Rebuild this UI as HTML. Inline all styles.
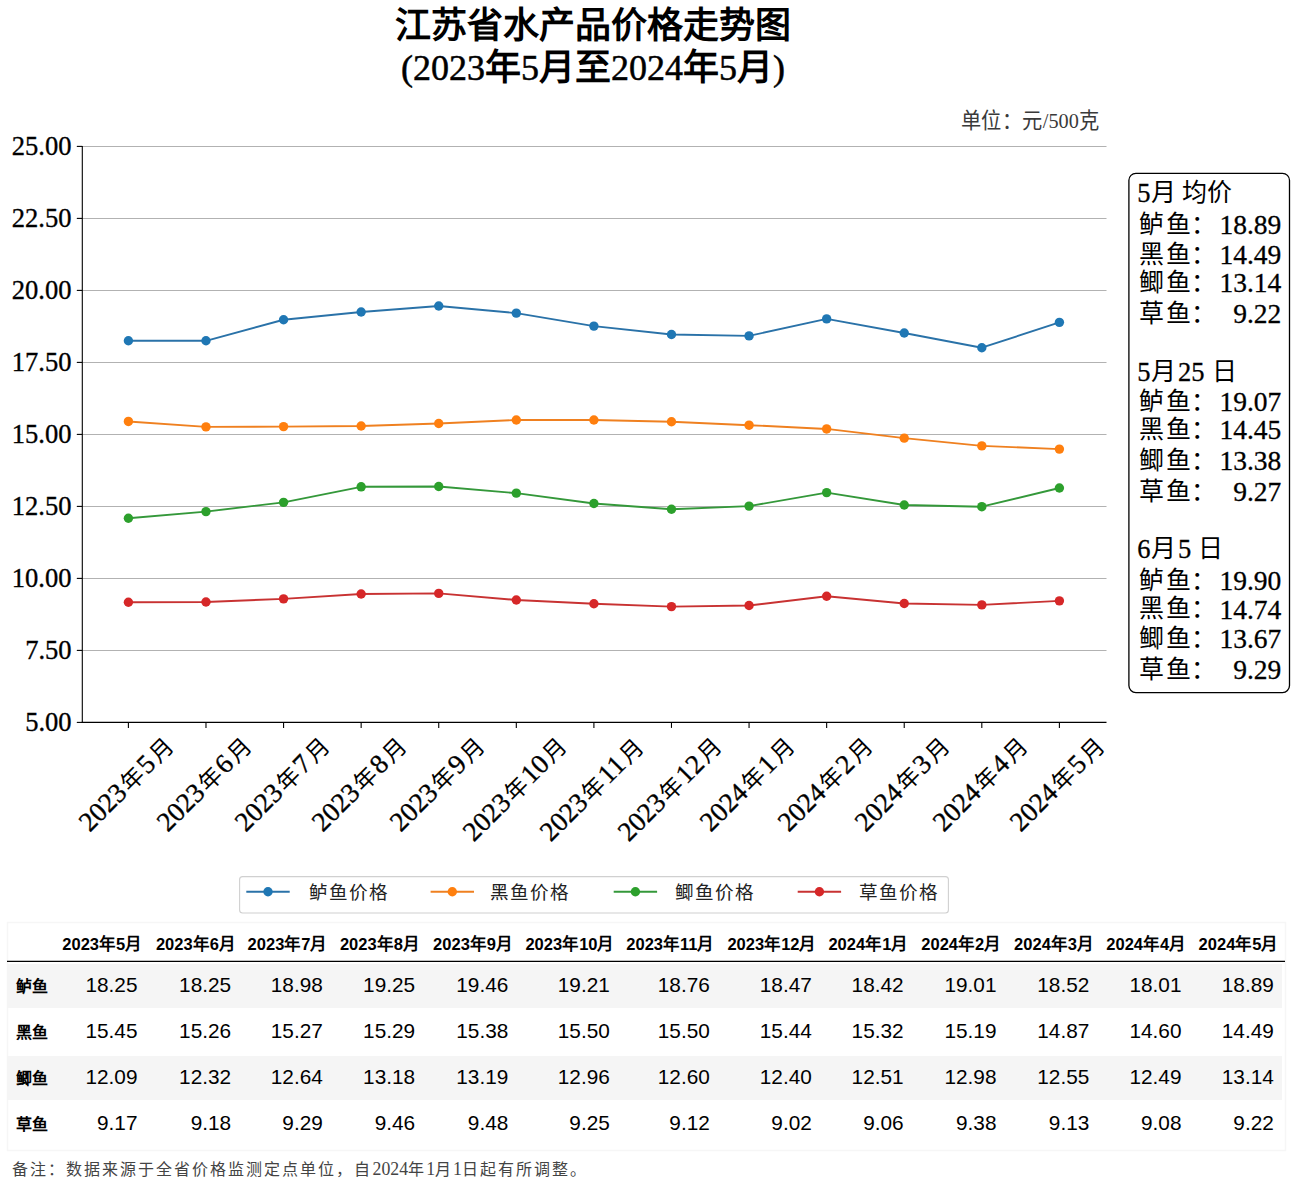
<!DOCTYPE html>
<html lang="zh-CN"><head><meta charset="utf-8"><style>
html,body{margin:0;padding:0;background:#fff;}
body{width:1291px;height:1198px;position:relative;overflow:hidden;}
svg{position:absolute;left:0;top:0;}
.t{position:absolute;white-space:nowrap;line-height:1;}
.title{font-family:"Liberation Serif",serif;font-size:36px;font-weight:bold;}
.title2{font-family:"Liberation Serif",serif;font-size:36px;-webkit-text-stroke:0.5px #000;}
.title2 b{-webkit-text-stroke:0;}
.unit{font-family:"Liberation Serif",serif;font-size:21.8px;color:#3a3a3a;transform:scaleX(0.93);transform-origin:0 0;}
.ytick{font-family:"Liberation Serif",serif;font-size:27.8px;color:#000;-webkit-text-stroke:0.35px #000;transform:scaleX(0.955);transform-origin:100% 0;}
.xt{position:absolute;white-space:nowrap;font-family:"Liberation Serif",serif;font-size:27.2px;line-height:1;transform-origin:50% 50%;transform:rotate(-45deg);}
.xt i{font-style:normal;-webkit-text-stroke:0.35px #000;}
.xt b{font-weight:normal;font-size:23px;margin:0 2.1px;}
.leg{font-family:"Liberation Serif",serif;font-size:18.6px;letter-spacing:1.0px;color:#222;}
.ann{font-family:"Liberation Serif",serif;font-size:25px;color:#000;}
.annd{font-size:26.5px;-webkit-text-stroke:0.3px #000;vertical-align:-1px;}
.annv{font-family:"Liberation Serif",serif;font-size:27.5px;color:#000;-webkit-text-stroke:0.3px #000;}
.rb{position:absolute;left:7px;width:1274.5px;height:44.5px;}
.th{font-family:"Liberation Sans",sans-serif;font-size:16.5px;font-weight:bold;color:#000;}
.rl{font-family:"Liberation Sans",sans-serif;font-size:16px;font-weight:bold;color:#000;}
.td{font-family:"Liberation Sans",sans-serif;font-size:20.8px;color:#000;}
.foot{font-family:"Liberation Serif",serif;font-size:16px;letter-spacing:2.05px;color:#444;}
.fd{font-size:17.8px;letter-spacing:0;}
</style></head><body>
<svg width="1291" height="1198" viewBox="0 0 1291 1198">
<line x1="82.3" y1="146.40" x2="1106.5" y2="146.40" stroke="#b2b2b2" stroke-width="1.05"/>
<line x1="76.8" y1="146.40" x2="82.3" y2="146.40" stroke="#000" stroke-width="1.1"/>
<line x1="82.3" y1="218.40" x2="1106.5" y2="218.40" stroke="#b2b2b2" stroke-width="1.05"/>
<line x1="76.8" y1="218.40" x2="82.3" y2="218.40" stroke="#000" stroke-width="1.1"/>
<line x1="82.3" y1="290.40" x2="1106.5" y2="290.40" stroke="#b2b2b2" stroke-width="1.05"/>
<line x1="76.8" y1="290.40" x2="82.3" y2="290.40" stroke="#000" stroke-width="1.1"/>
<line x1="82.3" y1="362.40" x2="1106.5" y2="362.40" stroke="#b2b2b2" stroke-width="1.05"/>
<line x1="76.8" y1="362.40" x2="82.3" y2="362.40" stroke="#000" stroke-width="1.1"/>
<line x1="82.3" y1="434.40" x2="1106.5" y2="434.40" stroke="#b2b2b2" stroke-width="1.05"/>
<line x1="76.8" y1="434.40" x2="82.3" y2="434.40" stroke="#000" stroke-width="1.1"/>
<line x1="82.3" y1="506.40" x2="1106.5" y2="506.40" stroke="#b2b2b2" stroke-width="1.05"/>
<line x1="76.8" y1="506.40" x2="82.3" y2="506.40" stroke="#000" stroke-width="1.1"/>
<line x1="82.3" y1="578.40" x2="1106.5" y2="578.40" stroke="#b2b2b2" stroke-width="1.05"/>
<line x1="76.8" y1="578.40" x2="82.3" y2="578.40" stroke="#000" stroke-width="1.1"/>
<line x1="82.3" y1="650.40" x2="1106.5" y2="650.40" stroke="#b2b2b2" stroke-width="1.05"/>
<line x1="76.8" y1="650.40" x2="82.3" y2="650.40" stroke="#000" stroke-width="1.1"/>
<line x1="76.8" y1="722.40" x2="82.3" y2="722.40" stroke="#000" stroke-width="1.1"/>
<line x1="82.3" y1="145.9" x2="82.3" y2="722.9499999999999" stroke="#000" stroke-width="1.1"/>
<line x1="81.75" y1="722.40" x2="1106.5" y2="722.40" stroke="#000" stroke-width="1.1"/>
<line x1="128.40" y1="722.40" x2="128.40" y2="727.90" stroke="#000" stroke-width="1.1"/>
<line x1="205.98" y1="722.40" x2="205.98" y2="727.90" stroke="#000" stroke-width="1.1"/>
<line x1="283.57" y1="722.40" x2="283.57" y2="727.90" stroke="#000" stroke-width="1.1"/>
<line x1="361.15" y1="722.40" x2="361.15" y2="727.90" stroke="#000" stroke-width="1.1"/>
<line x1="438.73" y1="722.40" x2="438.73" y2="727.90" stroke="#000" stroke-width="1.1"/>
<line x1="516.31" y1="722.40" x2="516.31" y2="727.90" stroke="#000" stroke-width="1.1"/>
<line x1="593.90" y1="722.40" x2="593.90" y2="727.90" stroke="#000" stroke-width="1.1"/>
<line x1="671.48" y1="722.40" x2="671.48" y2="727.90" stroke="#000" stroke-width="1.1"/>
<line x1="749.06" y1="722.40" x2="749.06" y2="727.90" stroke="#000" stroke-width="1.1"/>
<line x1="826.65" y1="722.40" x2="826.65" y2="727.90" stroke="#000" stroke-width="1.1"/>
<line x1="904.23" y1="722.40" x2="904.23" y2="727.90" stroke="#000" stroke-width="1.1"/>
<line x1="981.81" y1="722.40" x2="981.81" y2="727.90" stroke="#000" stroke-width="1.1"/>
<line x1="1059.40" y1="722.40" x2="1059.40" y2="727.90" stroke="#000" stroke-width="1.1"/>
<polyline points="128.40,340.80 205.98,340.80 283.57,319.78 361.15,312.00 438.73,305.95 516.31,313.15 593.90,326.11 671.48,334.46 749.06,335.90 826.65,318.91 904.23,333.02 981.81,347.71 1059.40,322.37" fill="none" stroke="#2a72a8" stroke-width="1.9" stroke-linejoin="round"/>
<circle cx="128.40" cy="340.80" r="4.7" fill="#1f77b4"/>
<circle cx="205.98" cy="340.80" r="4.7" fill="#1f77b4"/>
<circle cx="283.57" cy="319.78" r="4.7" fill="#1f77b4"/>
<circle cx="361.15" cy="312.00" r="4.7" fill="#1f77b4"/>
<circle cx="438.73" cy="305.95" r="4.7" fill="#1f77b4"/>
<circle cx="516.31" cy="313.15" r="4.7" fill="#1f77b4"/>
<circle cx="593.90" cy="326.11" r="4.7" fill="#1f77b4"/>
<circle cx="671.48" cy="334.46" r="4.7" fill="#1f77b4"/>
<circle cx="749.06" cy="335.90" r="4.7" fill="#1f77b4"/>
<circle cx="826.65" cy="318.91" r="4.7" fill="#1f77b4"/>
<circle cx="904.23" cy="333.02" r="4.7" fill="#1f77b4"/>
<circle cx="981.81" cy="347.71" r="4.7" fill="#1f77b4"/>
<circle cx="1059.40" cy="322.37" r="4.7" fill="#1f77b4"/>
<polyline points="128.40,421.44 205.98,426.91 283.57,426.62 361.15,426.05 438.73,423.46 516.31,420.00 593.90,420.00 671.48,421.73 749.06,425.18 826.65,428.93 904.23,438.14 981.81,445.92 1059.40,449.09" fill="none" stroke="#ef8020" stroke-width="1.9" stroke-linejoin="round"/>
<circle cx="128.40" cy="421.44" r="4.7" fill="#ff7f0e"/>
<circle cx="205.98" cy="426.91" r="4.7" fill="#ff7f0e"/>
<circle cx="283.57" cy="426.62" r="4.7" fill="#ff7f0e"/>
<circle cx="361.15" cy="426.05" r="4.7" fill="#ff7f0e"/>
<circle cx="438.73" cy="423.46" r="4.7" fill="#ff7f0e"/>
<circle cx="516.31" cy="420.00" r="4.7" fill="#ff7f0e"/>
<circle cx="593.90" cy="420.00" r="4.7" fill="#ff7f0e"/>
<circle cx="671.48" cy="421.73" r="4.7" fill="#ff7f0e"/>
<circle cx="749.06" cy="425.18" r="4.7" fill="#ff7f0e"/>
<circle cx="826.65" cy="428.93" r="4.7" fill="#ff7f0e"/>
<circle cx="904.23" cy="438.14" r="4.7" fill="#ff7f0e"/>
<circle cx="981.81" cy="445.92" r="4.7" fill="#ff7f0e"/>
<circle cx="1059.40" cy="449.09" r="4.7" fill="#ff7f0e"/>
<polyline points="128.40,518.21 205.98,511.58 283.57,502.37 361.15,486.82 438.73,486.53 516.31,493.15 593.90,503.52 671.48,509.28 749.06,506.11 826.65,492.58 904.23,504.96 981.81,506.69 1059.40,487.97" fill="none" stroke="#34983a" stroke-width="1.9" stroke-linejoin="round"/>
<circle cx="128.40" cy="518.21" r="4.7" fill="#2ca02c"/>
<circle cx="205.98" cy="511.58" r="4.7" fill="#2ca02c"/>
<circle cx="283.57" cy="502.37" r="4.7" fill="#2ca02c"/>
<circle cx="361.15" cy="486.82" r="4.7" fill="#2ca02c"/>
<circle cx="438.73" cy="486.53" r="4.7" fill="#2ca02c"/>
<circle cx="516.31" cy="493.15" r="4.7" fill="#2ca02c"/>
<circle cx="593.90" cy="503.52" r="4.7" fill="#2ca02c"/>
<circle cx="671.48" cy="509.28" r="4.7" fill="#2ca02c"/>
<circle cx="749.06" cy="506.11" r="4.7" fill="#2ca02c"/>
<circle cx="826.65" cy="492.58" r="4.7" fill="#2ca02c"/>
<circle cx="904.23" cy="504.96" r="4.7" fill="#2ca02c"/>
<circle cx="981.81" cy="506.69" r="4.7" fill="#2ca02c"/>
<circle cx="1059.40" cy="487.97" r="4.7" fill="#2ca02c"/>
<polyline points="128.40,602.30 205.98,602.02 283.57,598.85 361.15,593.95 438.73,593.38 516.31,600.00 593.90,603.74 671.48,606.62 749.06,605.47 826.65,596.26 904.23,603.46 981.81,604.90 1059.40,600.86" fill="none" stroke="#c83232" stroke-width="1.9" stroke-linejoin="round"/>
<circle cx="128.40" cy="602.30" r="4.7" fill="#d62728"/>
<circle cx="205.98" cy="602.02" r="4.7" fill="#d62728"/>
<circle cx="283.57" cy="598.85" r="4.7" fill="#d62728"/>
<circle cx="361.15" cy="593.95" r="4.7" fill="#d62728"/>
<circle cx="438.73" cy="593.38" r="4.7" fill="#d62728"/>
<circle cx="516.31" cy="600.00" r="4.7" fill="#d62728"/>
<circle cx="593.90" cy="603.74" r="4.7" fill="#d62728"/>
<circle cx="671.48" cy="606.62" r="4.7" fill="#d62728"/>
<circle cx="749.06" cy="605.47" r="4.7" fill="#d62728"/>
<circle cx="826.65" cy="596.26" r="4.7" fill="#d62728"/>
<circle cx="904.23" cy="603.46" r="4.7" fill="#d62728"/>
<circle cx="981.81" cy="604.90" r="4.7" fill="#d62728"/>
<circle cx="1059.40" cy="600.86" r="4.7" fill="#d62728"/>
<rect x="239.6" y="876.6" width="708.8" height="36.4" rx="3" fill="#fff" stroke="#d0d0d0" stroke-width="1.1"/>
<line x1="246.3" y1="891.8" x2="289.7" y2="891.8" stroke="#2a72a8" stroke-width="2"/>
<circle cx="268.0" cy="891.8" r="4.7" fill="#1f77b4"/>
<line x1="430.6" y1="891.8" x2="474.0" y2="891.8" stroke="#ef8020" stroke-width="2"/>
<circle cx="452.3" cy="891.8" r="4.7" fill="#ff7f0e"/>
<line x1="613.6999999999999" y1="891.8" x2="657.1" y2="891.8" stroke="#34983a" stroke-width="2"/>
<circle cx="635.4" cy="891.8" r="4.7" fill="#2ca02c"/>
<line x1="797.6999999999999" y1="891.8" x2="841.1" y2="891.8" stroke="#c83232" stroke-width="2"/>
<circle cx="819.4" cy="891.8" r="4.7" fill="#d62728"/>
<rect x="1128.9" y="173.3" width="160.6" height="519.3" rx="7" fill="#fff" stroke="#000" stroke-width="1.3"/>
<rect x="7.5" y="922.5" width="1278" height="228" fill="none" stroke="#f6f6f6" stroke-width="1.5"/>
<line x1="7" y1="961.4" x2="1285" y2="961.4" stroke="#000" stroke-width="1.2"/>
</svg>
<div class="t title" style="left:293.0px;width:600px;text-align:center;top:8.0px">江苏省水产品价格走势图</div>
<div class="t title2" style="left:293.0px;width:600px;text-align:center;top:50.0px">(2023<b>年</b>5<b>月至</b>2024<b>年</b>5<b>月</b>)</div>
<div class="t unit" style="left:961.0px;top:110.5px">单位：元/500克</div>
<div class="t ytick" style="right:1219.8px;top:132.4px">25.00</div>
<div class="t ytick" style="right:1219.8px;top:204.4px">22.50</div>
<div class="t ytick" style="right:1219.8px;top:276.4px">20.00</div>
<div class="t ytick" style="right:1219.8px;top:348.4px">17.50</div>
<div class="t ytick" style="right:1219.8px;top:420.4px">15.00</div>
<div class="t ytick" style="right:1219.8px;top:492.4px">12.50</div>
<div class="t ytick" style="right:1219.8px;top:564.4px">10.00</div>
<div class="t ytick" style="right:1219.8px;top:636.4px">7.50</div>
<div class="t ytick" style="right:1219.8px;top:708.4px">5.00</div>
<div class="xt" style="left:66.4px;top:770.1px;width:122.4px;height:27.2px"><i>2023</i><b>年</b><i>5</i><b>月</b></div>
<div class="xt" style="left:144.0px;top:770.1px;width:122.4px;height:27.2px"><i>2023</i><b>年</b><i>6</i><b>月</b></div>
<div class="xt" style="left:221.6px;top:770.1px;width:122.4px;height:27.2px"><i>2023</i><b>年</b><i>7</i><b>月</b></div>
<div class="xt" style="left:299.1px;top:770.1px;width:122.4px;height:27.2px"><i>2023</i><b>年</b><i>8</i><b>月</b></div>
<div class="xt" style="left:376.7px;top:770.1px;width:122.4px;height:27.2px"><i>2023</i><b>年</b><i>9</i><b>月</b></div>
<div class="xt" style="left:447.5px;top:774.9px;width:136.0px;height:27.2px"><i>2023</i><b>年</b><i>10</i><b>月</b></div>
<div class="xt" style="left:525.1px;top:774.9px;width:136.0px;height:27.2px"><i>2023</i><b>年</b><i>11</i><b>月</b></div>
<div class="xt" style="left:602.7px;top:774.9px;width:136.0px;height:27.2px"><i>2023</i><b>年</b><i>12</i><b>月</b></div>
<div class="xt" style="left:687.1px;top:770.1px;width:122.4px;height:27.2px"><i>2024</i><b>年</b><i>1</i><b>月</b></div>
<div class="xt" style="left:764.6px;top:770.1px;width:122.4px;height:27.2px"><i>2024</i><b>年</b><i>2</i><b>月</b></div>
<div class="xt" style="left:842.2px;top:770.1px;width:122.4px;height:27.2px"><i>2024</i><b>年</b><i>3</i><b>月</b></div>
<div class="xt" style="left:919.8px;top:770.1px;width:122.4px;height:27.2px"><i>2024</i><b>年</b><i>4</i><b>月</b></div>
<div class="xt" style="left:997.4px;top:770.1px;width:122.4px;height:27.2px"><i>2024</i><b>年</b><i>5</i><b>月</b></div>
<div class="t leg" style="left:308.5px;top:883.5px">鲈鱼价格</div>
<div class="t leg" style="left:490.1px;top:883.5px">黑鱼价格</div>
<div class="t leg" style="left:674.9px;top:883.5px">鲫鱼价格</div>
<div class="t leg" style="left:858.5px;top:883.5px">草鱼价格</div>
<div class="t ann" style="left:1137.3px;top:179.7px"><span class="annd">5</span>月 均价</div>
<div class="t ann" style="left:1138.6px;top:212.1px">鲈</div>
<div class="t ann" style="left:1166.3px;top:212.1px">鱼：</div>
<div class="t annv" style="right:9.7px;top:211.2px">18.89</div>
<div class="t ann" style="left:1138.6px;top:241.5px">黑</div>
<div class="t ann" style="left:1166.3px;top:241.5px">鱼：</div>
<div class="t annv" style="right:9.7px;top:240.6px">14.49</div>
<div class="t ann" style="left:1138.6px;top:270.1px">鲫</div>
<div class="t ann" style="left:1166.3px;top:270.1px">鱼：</div>
<div class="t annv" style="right:9.7px;top:269.2px">13.14</div>
<div class="t ann" style="left:1138.6px;top:301.2px">草</div>
<div class="t ann" style="left:1166.3px;top:301.2px">鱼：</div>
<div class="t annv" style="right:9.7px;top:300.3px">9.22</div>
<div class="t ann" style="left:1137.3px;top:359.4px"><span class="annd">5</span>月<i style="display:inline-block;width:2.5px"></i><span class="annd">25</span><i style="display:inline-block;width:7.5px"></i>日</div>
<div class="t ann" style="left:1138.6px;top:389.2px">鲈</div>
<div class="t ann" style="left:1166.3px;top:389.2px">鱼：</div>
<div class="t annv" style="right:9.7px;top:388.3px">19.07</div>
<div class="t ann" style="left:1138.6px;top:417.2px">黑</div>
<div class="t ann" style="left:1166.3px;top:417.2px">鱼：</div>
<div class="t annv" style="right:9.7px;top:416.3px">14.45</div>
<div class="t ann" style="left:1138.6px;top:447.5px">鲫</div>
<div class="t ann" style="left:1166.3px;top:447.5px">鱼：</div>
<div class="t annv" style="right:9.7px;top:446.6px">13.38</div>
<div class="t ann" style="left:1138.6px;top:479.1px">草</div>
<div class="t ann" style="left:1166.3px;top:479.1px">鱼：</div>
<div class="t annv" style="right:9.7px;top:478.2px">9.27</div>
<div class="t ann" style="left:1137.3px;top:536.4px"><span class="annd">6</span>月<i style="display:inline-block;width:2.5px"></i><span class="annd">5</span><i style="display:inline-block;width:6.3px"></i>日</div>
<div class="t ann" style="left:1138.6px;top:568.2px">鲈</div>
<div class="t ann" style="left:1166.3px;top:568.2px">鱼：</div>
<div class="t annv" style="right:9.7px;top:567.3px">19.90</div>
<div class="t ann" style="left:1138.6px;top:596.4px">黑</div>
<div class="t ann" style="left:1166.3px;top:596.4px">鱼：</div>
<div class="t annv" style="right:9.7px;top:595.5px">14.74</div>
<div class="t ann" style="left:1138.6px;top:625.7px">鲫</div>
<div class="t ann" style="left:1166.3px;top:625.7px">鱼：</div>
<div class="t annv" style="right:9.7px;top:624.8px">13.67</div>
<div class="t ann" style="left:1138.6px;top:657.3px">草</div>
<div class="t ann" style="left:1166.3px;top:657.3px">鱼：</div>
<div class="t annv" style="right:9.7px;top:656.4px">9.29</div>
<div class="rb" style="top:963.5px;background:#f5f5f5"></div>
<div class="rb" style="top:1055.5px;background:#f5f5f5"></div>
<div class="t th" style="right:1148.8px;top:936.0px">2023年5月</div>
<div class="t th" style="right:1055.2px;top:936.0px">2023年6月</div>
<div class="t th" style="right:963.5px;top:936.0px">2023年7月</div>
<div class="t th" style="right:871.2px;top:936.0px">2023年8月</div>
<div class="t th" style="right:778.0px;top:936.0px">2023年9月</div>
<div class="t th" style="right:676.5px;top:936.0px">2023年10月</div>
<div class="t th" style="right:576.5px;top:936.0px">2023年11月</div>
<div class="t th" style="right:474.5px;top:936.0px">2023年12月</div>
<div class="t th" style="right:382.7px;top:936.0px">2024年1月</div>
<div class="t th" style="right:289.8px;top:936.0px">2024年2月</div>
<div class="t th" style="right:197.0px;top:936.0px">2024年3月</div>
<div class="t th" style="right:104.8px;top:936.0px">2024年4月</div>
<div class="t th" style="right:12.5px;top:936.0px">2024年5月</div>
<div class="t rl" style="left:16.0px;top:979.0px">鲈鱼</div>
<div class="t td" style="right:1153.5px;top:974.5px">18.25</div>
<div class="t td" style="right:1059.9px;top:974.5px">18.25</div>
<div class="t td" style="right:968.2px;top:974.5px">18.98</div>
<div class="t td" style="right:875.9px;top:974.5px">19.25</div>
<div class="t td" style="right:782.7px;top:974.5px">19.46</div>
<div class="t td" style="right:681.2px;top:974.5px">19.21</div>
<div class="t td" style="right:581.2px;top:974.5px">18.76</div>
<div class="t td" style="right:479.2px;top:974.5px">18.47</div>
<div class="t td" style="right:387.4px;top:974.5px">18.42</div>
<div class="t td" style="right:294.5px;top:974.5px">19.01</div>
<div class="t td" style="right:201.7px;top:974.5px">18.52</div>
<div class="t td" style="right:109.5px;top:974.5px">18.01</div>
<div class="t td" style="right:17.2px;top:974.5px">18.89</div>
<div class="t rl" style="left:16.0px;top:1025.0px">黑鱼</div>
<div class="t td" style="right:1153.5px;top:1020.5px">15.45</div>
<div class="t td" style="right:1059.9px;top:1020.5px">15.26</div>
<div class="t td" style="right:968.2px;top:1020.5px">15.27</div>
<div class="t td" style="right:875.9px;top:1020.5px">15.29</div>
<div class="t td" style="right:782.7px;top:1020.5px">15.38</div>
<div class="t td" style="right:681.2px;top:1020.5px">15.50</div>
<div class="t td" style="right:581.2px;top:1020.5px">15.50</div>
<div class="t td" style="right:479.2px;top:1020.5px">15.44</div>
<div class="t td" style="right:387.4px;top:1020.5px">15.32</div>
<div class="t td" style="right:294.5px;top:1020.5px">15.19</div>
<div class="t td" style="right:201.7px;top:1020.5px">14.87</div>
<div class="t td" style="right:109.5px;top:1020.5px">14.60</div>
<div class="t td" style="right:17.2px;top:1020.5px">14.49</div>
<div class="t rl" style="left:16.0px;top:1071.0px">鲫鱼</div>
<div class="t td" style="right:1153.5px;top:1066.5px">12.09</div>
<div class="t td" style="right:1059.9px;top:1066.5px">12.32</div>
<div class="t td" style="right:968.2px;top:1066.5px">12.64</div>
<div class="t td" style="right:875.9px;top:1066.5px">13.18</div>
<div class="t td" style="right:782.7px;top:1066.5px">13.19</div>
<div class="t td" style="right:681.2px;top:1066.5px">12.96</div>
<div class="t td" style="right:581.2px;top:1066.5px">12.60</div>
<div class="t td" style="right:479.2px;top:1066.5px">12.40</div>
<div class="t td" style="right:387.4px;top:1066.5px">12.51</div>
<div class="t td" style="right:294.5px;top:1066.5px">12.98</div>
<div class="t td" style="right:201.7px;top:1066.5px">12.55</div>
<div class="t td" style="right:109.5px;top:1066.5px">12.49</div>
<div class="t td" style="right:17.2px;top:1066.5px">13.14</div>
<div class="t rl" style="left:16.0px;top:1117.0px">草鱼</div>
<div class="t td" style="right:1153.5px;top:1112.5px">9.17</div>
<div class="t td" style="right:1059.9px;top:1112.5px">9.18</div>
<div class="t td" style="right:968.2px;top:1112.5px">9.29</div>
<div class="t td" style="right:875.9px;top:1112.5px">9.46</div>
<div class="t td" style="right:782.7px;top:1112.5px">9.48</div>
<div class="t td" style="right:681.2px;top:1112.5px">9.25</div>
<div class="t td" style="right:581.2px;top:1112.5px">9.12</div>
<div class="t td" style="right:479.2px;top:1112.5px">9.02</div>
<div class="t td" style="right:387.4px;top:1112.5px">9.06</div>
<div class="t td" style="right:294.5px;top:1112.5px">9.38</div>
<div class="t td" style="right:201.7px;top:1112.5px">9.13</div>
<div class="t td" style="right:109.5px;top:1112.5px">9.08</div>
<div class="t td" style="right:17.2px;top:1112.5px">9.22</div>
<div class="t foot" style="left:11.5px;top:1160.5px">备注：数据来源于全省价格监测定点单位，自<span class="fd">2024</span>年<span class="fd">1</span>月<span class="fd">1</span>日起有所调整。</div>
</body></html>
